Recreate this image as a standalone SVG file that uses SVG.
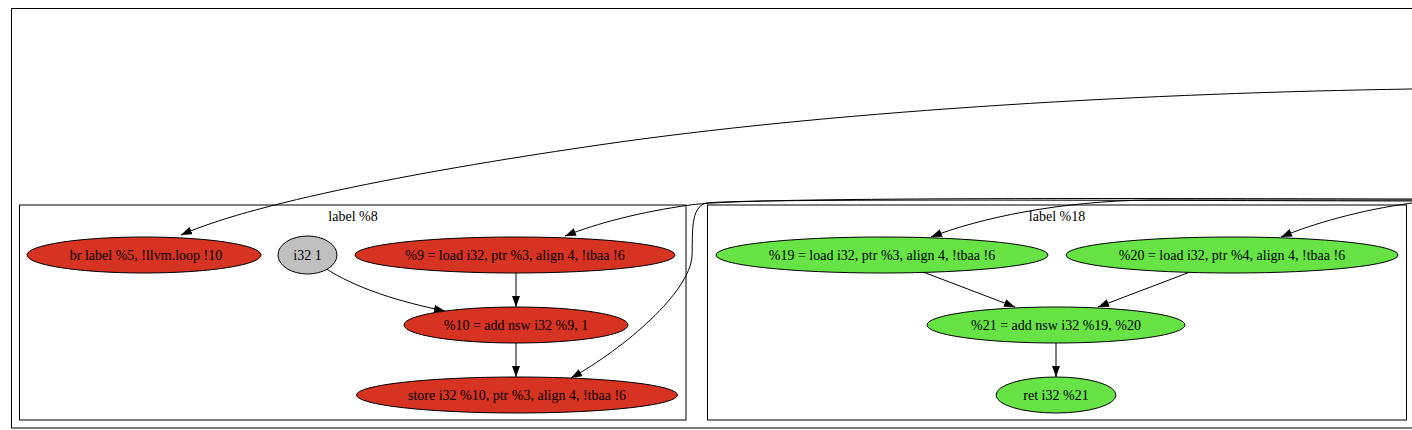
<svg xmlns="http://www.w3.org/2000/svg" width="1412" height="430" viewBox="0 0 1412 430">
<style>
text{font-family:"Liberation Serif","Times New Roman",serif;font-size:14px;fill:#000;text-anchor:middle}
.cl{fill:none;stroke:#000;stroke-width:1}
.red{fill:#d63322;stroke:#000;stroke-width:1}
.grn{fill:#67e346;stroke:#000;stroke-width:1}
.gry{fill:#c0c0c0;stroke:#000;stroke-width:1}
.e{fill:none;stroke:#000;stroke-width:1;marker-end:url(#ah)}
</style>
<defs>
<marker id="ah" markerUnits="userSpaceOnUse" markerWidth="11" markerHeight="8" refX="11" refY="4" orient="auto">
<path d="M0,0 L11,4 L0,8 z" fill="#000"/>
</marker>
</defs>
<rect width="1412" height="430" fill="#fff"/>
<g id="outer"><rect class="cl" x="11.5" y="8.5" width="1420" height="419.5"/></g>
<g id="cluster_8">
<rect class="cl" x="19.5" y="205" width="666.5" height="215"/>
<text x="353" y="221">label %8</text>
</g>
<g id="cluster_18">
<rect class="cl" x="707.5" y="205" width="699" height="215"/>
<text x="1057" y="221">label %18</text>
</g>
<g id="connectors">
<path class="e" d="M1412,89 C1150,93 850,110 620,142 C450,166 260,200 181,235"/>
<path class="e" d="M1412,199 C1000,198 740,198 690,205 C640,212 598,223 565,236"/>
<path class="e" d="M1412,201 C1000,200 745,199 706,203 C690,208 693,232 692,256 C690,292 625,348 571,378"/>
<path class="e" d="M1412,200 L1150,200 C1060,201 980,218 931,237"/>
<path class="e" d="M1412,203 C1360,210 1312,224 1281,237"/>
<path class="e" d="M325,268 C355,288 400,302 445,311"/>
<path class="e" d="M516,273 L516,307"/>
<path class="e" d="M516,343 L516,377"/>
<path class="e" d="M923,272 L1015,307"/>
<path class="e" d="M1190,272 L1098,307"/>
<path class="e" d="M1056,343 L1056,377"/>
</g>
<g id="n_br"><ellipse class="red" cx="144" cy="255" rx="117" ry="18"/><text x="146" y="259.5">br label %5, !llvm.loop !10</text></g>
<g id="n_i32_1"><ellipse class="gry" cx="307.5" cy="255" rx="29.5" ry="19"/><text x="307.5" y="259.5">i32 1</text></g>
<g id="n_9"><ellipse class="red" cx="515" cy="255" rx="160" ry="18"/><text x="515" y="259.5">%9 = load i32, ptr %3, align 4, !tbaa !6</text></g>
<g id="n_10"><ellipse class="red" cx="516" cy="325" rx="112" ry="18"/><text x="516" y="329.5">%10 = add nsw i32 %9, 1</text></g>
<g id="n_store"><ellipse class="red" cx="517" cy="395" rx="160.5" ry="18"/><text x="517" y="399.5">store i32 %10, ptr %3, align 4, !tbaa !6</text></g>
<g id="n_19"><ellipse class="grn" cx="882" cy="255" rx="166" ry="18"/><text x="882" y="259.5">%19 = load i32, ptr %3, align 4, !tbaa !6</text></g>
<g id="n_20"><ellipse class="grn" cx="1232" cy="255" rx="166" ry="18"/><text x="1232" y="259.5">%20 = load i32, ptr %4, align 4, !tbaa !6</text></g>
<g id="n_21"><ellipse class="grn" cx="1056" cy="325" rx="129" ry="18"/><text x="1056" y="329.5">%21 = add nsw i32 %19, %20</text></g>
<g id="n_ret"><ellipse class="grn" cx="1056" cy="395" rx="60" ry="18"/><text x="1056" y="399.5">ret i32 %21</text></g>
</svg>
